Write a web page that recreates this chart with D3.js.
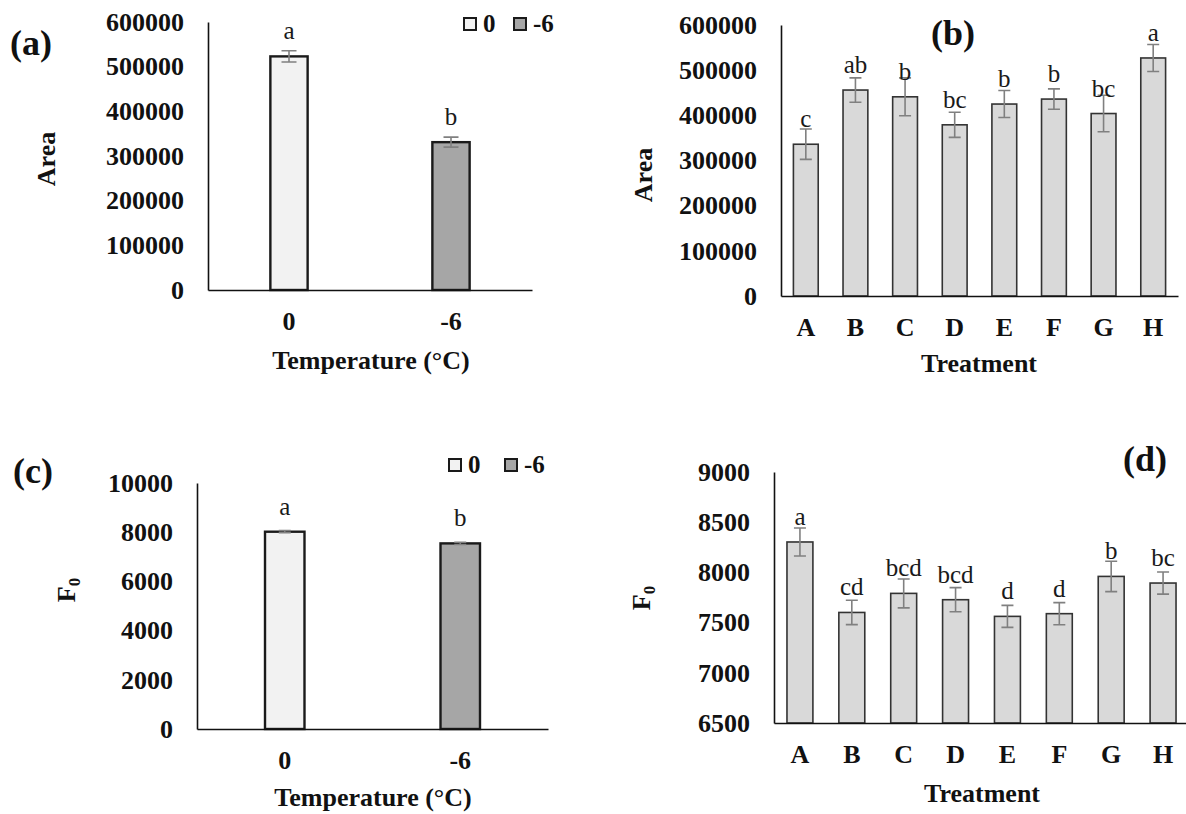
<!DOCTYPE html>
<html>
<head>
<meta charset="utf-8">
<script src="https://cdn.jsdelivr.net/npm/d3@7"></script>
<style>
  body { margin: 0; background: #fff; }
  svg { display: block; font-family: "Liberation Serif", "Times New Roman", serif; }
</style>
</head>
<body>
<svg id="chart" width="1186" height="814"></svg>
<script>
// data
const tempCats = ["0", "-6"];
const tempFills = ["#f2f2f2", "#a6a6a6"];
const areaTemp = [523000, 331000];
const areaTempErr = [12700, 11200];
const areaTempLetters = ["a", "b"];
const f0Temp = [8020, 7545];
const f0TempErr = [45, 45];
const f0TempLetters = ["a", "b"];

const treatments = ["A", "B", "C", "D", "E", "F", "G", "H"];
const areaTreat = [336000, 456000, 441000, 379000, 425000, 436000, 404000, 527000];
const areaTreatErr = [33600, 27000, 42000, 27700, 29900, 22600, 40300, 29900];
const areaTreatLetters = ["c", "ab", "b", "bc", "b", "b", "bc", "a"];
const f0Treat = [8303, 7601, 7791, 7728, 7562, 7589, 7960, 7894];
const f0TreatErr = [139, 121, 144, 120, 110, 110, 151, 110];
const f0TreatLetters = ["a", "cd", "bcd", "bcd", "d", "d", "b", "bc"];

const areaTicks = [0, 100000, 200000, 300000, 400000, 500000, 600000];
const f0TempTicks = [0, 2000, 4000, 6000, 8000, 10000];
const f0TreatTicks = [6500, 7000, 7500, 8000, 8500, 9000];

const svg = d3.select("#chart");

function drawPanel(p) {
  const g = svg.append("g");

  const x = d3.scaleBand()
    .domain(p.cats)
    .range([p.x0, p.x1])
    .paddingInner(p.pad)
    .paddingOuter(p.pad / 2);
  const y = d3.scaleLinear()
    .domain([p.ticks[0], p.ticks[p.ticks.length - 1]])
    .range([p.yBottom, p.yTop]);

  // bars
  g.selectAll("rect.bar")
    .data(p.cats)
    .join("rect")
    .attr("class", "bar")
    .attr("x", (d) => x(d))
    .attr("y", (d, i) => y(p.values[i]))
    .attr("width", x.bandwidth())
    .attr("height", (d, i) => p.yBottom - y(p.values[i]))
    .attr("fill", (d, i) => p.fills[i % p.fills.length])
    .attr("stroke", p.barStroke)
    .attr("stroke-width", p.barStrokeWidth);

  // error bars
  const cx = (d) => x(d) + x.bandwidth() / 2;
  const err = g.append("g")
    .attr("stroke", "#808080")
    .attr("stroke-width", 1.6)
    .attr("fill", "none");
  err.selectAll("path")
    .data(p.cats)
    .join("path")
    .attr("d", (d, i) => {
      const hi = y(p.values[i] + p.errs[i]);
      const lo = y(p.values[i] - p.errs[i]);
      const c = cx(d), w = p.cap / 2;
      return `M${c},${hi}V${lo}M${c - w},${hi}H${c + w}M${c - w},${lo}H${c + w}`;
    });

  // significance letters
  g.selectAll("text.letter")
    .data(p.cats)
    .join("text")
    .attr("class", "letter")
    .attr("x", cx)
    .attr("y", (d, i) => y(p.values[i]) - 17)
    .attr("text-anchor", "middle")
    .attr("font-size", 25)
    .attr("fill", "#1a1a1a")
    .text((d, i) => p.letters[i]);

  // axes
  const yAxis = g.append("g")
    .attr("transform", `translate(${p.x0},0)`)
    .call(d3.axisLeft(y).tickValues(p.ticks).tickFormat(d3.format("d"))
      .tickSize(0).tickSizeOuter(0).tickPadding(24))
    .attr("font-family", null)
    .attr("font-size", 26)
    .attr("font-weight", "bold");
  yAxis.selectAll("text").attr("fill", "#111");
  yAxis.select(".domain").attr("stroke", "#111").attr("stroke-width", 1.6);

  const xAxis = g.append("g")
    .attr("transform", `translate(0,${p.yBottom})`)
    .call(d3.axisBottom(x).tickSize(0).tickSizeOuter(0))
    .attr("font-family", null)
    .attr("font-size", 26)
    .attr("font-weight", "bold");
  xAxis.selectAll("text")
    .attr("fill", "#111")
    .attr("dy", null)
    .attr("y", 40);
  xAxis.select(".domain").attr("stroke", "#111").attr("stroke-width", 1.6);

  // titles
  g.append("text")
    .attr("x", p.xTitle[0])
    .attr("y", p.xTitle[1])
    .attr("text-anchor", "middle")
    .attr("font-size", 26)
    .attr("font-weight", "bold")
    .attr("fill", "#111")
    .text(p.xLabel);

  const yt = g.append("text")
    .attr("transform", `translate(${p.yTitle[0]},${p.yTitle[1]}) rotate(-90)`)
    .attr("text-anchor", "middle")
    .attr("font-size", 26)
    .attr("font-weight", "bold")
    .attr("fill", "#111");
  if (p.yLabel === "F0") {
    yt.append("tspan").text("F");
    yt.append("tspan").attr("font-size", 17).attr("dy", "0.3em").text("0");
  } else {
    yt.text(p.yLabel);
  }

  g.append("text")
    .attr("x", p.tag[0])
    .attr("y", p.tag[1])
    .attr("font-size", 36)
    .attr("font-weight", "bold")
    .attr("fill", "#111")
    .text(p.tagText);

  // legend
  if (p.legend) {
    const lg = g.append("g");
    p.legend.forEach((pos, i) => {
      lg.append("rect")
        .attr("x", pos[0])
        .attr("y", pos[1])
        .attr("width", 12)
        .attr("height", 12)
        .attr("fill", tempFills[i])
        .attr("stroke", "#1a1a1a")
        .attr("stroke-width", 2);
      lg.append("text")
        .attr("x", pos[0] + 19)
        .attr("y", pos[1] + 14)
        .attr("font-size", 25)
        .attr("font-weight", "bold")
        .attr("fill", "#111")
        .text(tempCats[i]);
    });
  }
}

drawPanel({
  cats: tempCats, values: areaTemp, errs: areaTempErr, letters: areaTempLetters,
  ticks: areaTicks, fills: tempFills, pad: 0.77, cap: 15,
  x0: 208, x1: 532, yTop: 22, yBottom: 290,
  barStroke: "#1a1a1a", barStrokeWidth: 2.4,
  xLabel: "Temperature (°C)", xTitle: [371, 369],
  yLabel: "Area", yTitle: [55, 159],
  tagText: "(a)", tag: [10, 55],
  legend: [[464, 18], [514, 18]]
});

drawPanel({
  cats: treatments, values: areaTreat, errs: areaTreatErr, letters: areaTreatLetters,
  ticks: areaTicks, fills: ["#d9d9d9"], pad: 0.5, cap: 12,
  x0: 781, x1: 1178, yTop: 25, yBottom: 296,
  barStroke: "#333", barStrokeWidth: 1.6,
  xLabel: "Treatment", xTitle: [979, 372],
  yLabel: "Area", yTitle: [652, 175],
  tagText: "(b)", tag: [931, 45]
});

drawPanel({
  cats: tempCats, values: f0Temp, errs: f0TempErr, letters: f0TempLetters,
  ticks: f0TempTicks, fills: tempFills, pad: 0.775, cap: 12,
  x0: 197, x1: 548, yTop: 483, yBottom: 729,
  barStroke: "#1a1a1a", barStrokeWidth: 2.4,
  xLabel: "Temperature (°C)", xTitle: [373, 806],
  yLabel: "F0", yTitle: [75, 590],
  tagText: "(c)", tag: [13, 483],
  legend: [[449, 459], [505, 459]]
});

drawPanel({
  cats: treatments, values: f0Treat, errs: f0TreatErr, letters: f0TreatLetters,
  ticks: f0TreatTicks, fills: ["#d9d9d9"], pad: 0.5, cap: 12,
  x0: 774, x1: 1189, yTop: 472, yBottom: 723,
  barStroke: "#333", barStrokeWidth: 1.6,
  xLabel: "Treatment", xTitle: [982, 802],
  yLabel: "F0", yTitle: [650, 598],
  tagText: "(d)", tag: [1123, 471]
});
</script>
</body>
</html>
